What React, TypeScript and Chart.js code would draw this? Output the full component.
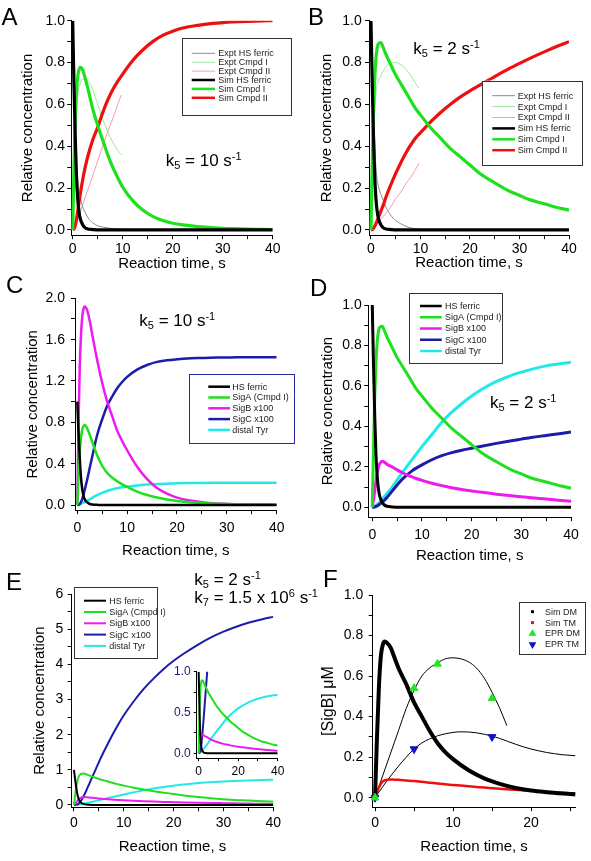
import React, { useEffect, useRef } from "react";
import { Chart, registerables } from "chart.js";
Chart.register(...registerables);

const FONT = '"Liberation Sans", Arial, Helvetica, sans-serif';

// ---------------- data ----------------
const T_SIM = [0, 0.25, 0.5, 0.75, 1, 1.25, 1.5, 2, 2.5, 3, 4, 5, 6, 7, 8, 9, 10, 12, 14, 16, 18, 20, 22, 25, 28, 30, 32, 35, 38, 40];
const T_EXPT = [0, 0.5, 1, 1.5, 2, 2.5, 3, 4, 5, 6, 7, 8, 9, 9.7];

const HS_FERRIC = [1.0, 0.7, 0.45, 0.26, 0.15, 0.09, 0.055, 0.025, 0.01, 0.005, 0.002, 0, 0, 0, 0, 0, 0, 0, 0, 0, 0, 0, 0, 0, 0, 0, 0, 0, 0, 0];
const CMPD1_K10 = [0, 0.3, 0.52, 0.65, 0.73, 0.765, 0.777, 0.765, 0.725, 0.68, 0.58, 0.5, 0.43, 0.36, 0.3, 0.25, 0.205, 0.14, 0.095, 0.065, 0.045, 0.032, 0.024, 0.016, 0.011, 0.008, 0.006, 0.004, 0.003, 0.002];
const CMPD2_K10 = [0, 0.005, 0.02, 0.05, 0.09, 0.13, 0.17, 0.24, 0.3, 0.35, 0.43, 0.49, 0.56, 0.62, 0.67, 0.71, 0.745, 0.81, 0.86, 0.9, 0.93, 0.95, 0.965, 0.978, 0.987, 0.991, 0.994, 0.997, 0.999, 1.0];
const CMPD1_K2 = [0, 0.3, 0.55, 0.72, 0.82, 0.87, 0.89, 0.895, 0.87, 0.84, 0.79, 0.74, 0.7, 0.66, 0.62, 0.58, 0.55, 0.49, 0.44, 0.39, 0.35, 0.31, 0.27, 0.225, 0.185, 0.165, 0.145, 0.125, 0.105, 0.095];
const CMPD2_K2 = [0, 0.002, 0.008, 0.018, 0.03, 0.045, 0.06, 0.09, 0.12, 0.155, 0.215, 0.27, 0.32, 0.365, 0.405, 0.44, 0.465, 0.515, 0.56, 0.6, 0.635, 0.665, 0.692, 0.733, 0.772, 0.796, 0.819, 0.851, 0.881, 0.9];

const EXPT_HS_A = [1.0, 0.45, 0.24, 0.16, 0.11, 0.085, 0.06, 0.035, 0.02, 0.014, 0.01, 0.006, 0.004, 0.003];
const EXPT_CMPD1_A = [0, 0.45, 0.65, 0.7, 0.72, 0.72, 0.715, 0.67, 0.6, 0.53, 0.47, 0.42, 0.38, 0.36];
const EXPT_CMPD2_A = [0, 0.02, 0.05, 0.085, 0.12, 0.155, 0.19, 0.26, 0.33, 0.4, 0.47, 0.53, 0.6, 0.645];
const EXPT_HS_B = [1.0, 0.6, 0.3, 0.21, 0.17, 0.14, 0.11, 0.07, 0.045, 0.03, 0.018, 0.01, 0.005, 0.003];
const EXPT_CMPD1_B = [0, 0.45, 0.65, 0.71, 0.74, 0.76, 0.78, 0.795, 0.8, 0.79, 0.77, 0.74, 0.7, 0.677];
const EXPT_CMPD2_B = [0, 0.008, 0.02, 0.035, 0.05, 0.065, 0.08, 0.11, 0.15, 0.18, 0.22, 0.25, 0.29, 0.318];

const SIGA_C = [0, 0.3, 0.52, 0.65, 0.73, 0.765, 0.777, 0.74, 0.68, 0.61, 0.48, 0.38, 0.31, 0.265, 0.23, 0.2, 0.175, 0.13, 0.097, 0.072, 0.053, 0.04, 0.03, 0.02, 0.013, 0.01, 0.008, 0.005, 0.004, 0.003];
const SIGB_K10 = [0, 0.8, 1.35, 1.65, 1.82, 1.9, 1.92, 1.88, 1.78, 1.65, 1.4, 1.18, 1.0, 0.86, 0.72, 0.62, 0.53, 0.37, 0.25, 0.165, 0.11, 0.072, 0.048, 0.027, 0.015, 0.011, 0.008, 0.005, 0.004, 0.003];
const SIGC_K10 = [0, 0.002, 0.01, 0.03, 0.06, 0.1, 0.15, 0.25, 0.36, 0.47, 0.68, 0.83, 0.96, 1.05, 1.13, 1.19, 1.24, 1.31, 1.355, 1.385, 1.4, 1.41, 1.418, 1.423, 1.427, 1.428, 1.429, 1.43, 1.43, 1.43];
const TYR_K10 = [0, 0.002, 0.006, 0.012, 0.018, 0.024, 0.03, 0.04, 0.055, 0.07, 0.095, 0.118, 0.136, 0.15, 0.162, 0.171, 0.178, 0.19, 0.198, 0.203, 0.207, 0.21, 0.212, 0.214, 0.215, 0.215, 0.215, 0.215, 0.215, 0.215];

const SIGB_K2 = [0, 0.04, 0.08, 0.13, 0.17, 0.2, 0.215, 0.228, 0.222, 0.212, 0.2, 0.185, 0.172, 0.16, 0.15, 0.141, 0.133, 0.119, 0.107, 0.097, 0.088, 0.081, 0.074, 0.065, 0.057, 0.052, 0.047, 0.041, 0.034, 0.03];
const SIGC_K2 = [0, 0, 0.002, 0.004, 0.007, 0.011, 0.016, 0.026, 0.037, 0.05, 0.08, 0.11, 0.138, 0.16, 0.18, 0.196, 0.21, 0.235, 0.255, 0.27, 0.282, 0.292, 0.302, 0.316, 0.329, 0.337, 0.345, 0.355, 0.365, 0.372];
const TYR_K2 = [0, 0.002, 0.005, 0.009, 0.014, 0.02, 0.026, 0.04, 0.055, 0.07, 0.1, 0.135, 0.17, 0.203, 0.236, 0.268, 0.3, 0.36, 0.42, 0.47, 0.512, 0.55, 0.582, 0.622, 0.652, 0.668, 0.682, 0.699, 0.711, 0.717];
const SIGC_K7 = [0, 0.003, 0.01, 0.02, 0.05, 0.09, 0.14, 0.27, 0.42, 0.58, 0.9, 1.22, 1.52, 1.8, 2.07, 2.32, 2.55, 2.95, 3.3, 3.6, 3.87, 4.1, 4.3, 4.57, 4.8, 4.93, 5.04, 5.18, 5.29, 5.35];

const T_F = [0, 0.25, 0.5, 0.75, 1, 1.25, 1.5, 2, 2.5, 3, 4, 5, 6, 7, 8, 9, 10, 12, 14, 16, 18, 20, 22, 25, 25.7];
const SIM_DM = [0, 0.3, 0.55, 0.7, 0.755, 0.77, 0.765, 0.74, 0.69, 0.64, 0.56, 0.47, 0.4, 0.33, 0.27, 0.225, 0.19, 0.135, 0.095, 0.068, 0.048, 0.035, 0.027, 0.018, 0.016];
const SIM_TM = [0, 0.025, 0.05, 0.068, 0.08, 0.086, 0.088, 0.09, 0.089, 0.088, 0.085, 0.082, 0.078, 0.074, 0.07, 0.066, 0.063, 0.056, 0.05, 0.044, 0.039, 0.034, 0.029, 0.022, 0.021];
const EPR_DM_T = [0, 5, 8, 15];
const EPR_DM = [0, 0.54, 0.66, 0.49];
const EPR_TM_T = [0, 5, 15];
const EPR_TM = [0, 0.24, 0.3];
const FIT_DM_T = [0, 1, 2, 3, 4, 5, 6, 7, 8, 9, 10, 11, 12, 13, 14, 15, 16, 16.9];
const FIT_DM = [0, 0.11, 0.22, 0.33, 0.44, 0.53, 0.6, 0.64, 0.665, 0.685, 0.69, 0.685, 0.67, 0.64, 0.59, 0.52, 0.44, 0.355];
const FIT_TM_T = [0, 1, 2, 3, 4, 5, 6, 7, 8, 9, 10, 11, 12, 13, 14, 15, 16, 17, 18, 19, 20, 21, 22, 23, 24, 25, 25.7];
const FIT_TM = [0, 0.055, 0.107, 0.155, 0.2, 0.24, 0.27, 0.29, 0.305, 0.315, 0.322, 0.325, 0.324, 0.32, 0.313, 0.304, 0.292, 0.278, 0.264, 0.251, 0.24, 0.231, 0.223, 0.217, 0.212, 0.209, 0.207];

// tick values
const X40_MAJOR = [0, 10, 20, 30, 40];
const X40_MINOR = [5, 15, 25, 35];
const Y1_MAJOR = [0, 0.2, 0.4, 0.6, 0.8, 1.0];
const Y1_MINOR = [0.1, 0.3, 0.5, 0.7, 0.9];
const Y2_MAJOR = [0, 0.4, 0.8, 1.2, 1.6, 2.0];
const Y2_MINOR = [0.2, 0.6, 1.0, 1.4, 1.8];
const Y6_MAJOR = [0, 1, 2, 3, 4, 5, 6];
const Y6_MINOR = [0.5, 1.5, 2.5, 3.5, 4.5, 5.5];
const XF_MAJOR = [0, 10, 20];
const XF_MINOR = [5, 15, 25];
const INSET_X_MAJOR = [0, 20, 40];
const INSET_X_MINOR = [10, 30];
const INSET_Y_MAJOR = [0, 0.5, 1.0];
const INSET_Y_MINOR = [0.25, 0.75];

// colours
const C_BLACK = "#000000";
const C_GREEN = "#1ee01e";
const C_RED = "#ee1010";
const C_GRAY = "#8a8a8a";
const C_LGREEN = "#9be89b";
const C_LRED = "#f0a0a8";
const C_MAGENTA = "#ee1bee";
const C_NAVY = "#1c1ca8";
const C_CYAN = "#22e8e8";
const C_BLUE = "#1010c8";

// ---------------- helpers ----------------
function line(label: string, xs: number[], ys: number[], color: string, width: number, order = 1): any {
  return {
    label,
    data: xs.map((x, i) => ({ x, y: ys[i] })),
    borderColor: color,
    backgroundColor: color,
    borderWidth: width,
    pointRadius: 0,
    fill: false,
    cubicInterpolationMode: "monotone",
    order,
  };
}

function marks(label: string, xs: number[], ys: number[], color: string, rotation: number): any {
  return {
    label,
    data: xs.map((x, i) => ({ x, y: ys[i] })),
    showLine: false,
    borderColor: color,
    backgroundColor: color,
    pointBackgroundColor: color,
    pointBorderColor: color,
    pointStyle: "triangle",
    pointRotation: rotation,
    pointRadius: 4.5,
    borderWidth: 1,
    clip: false,
    order: 0,
  };
}

type AxisCfg = {
  min: number; max: number; major: number[]; minor: number[]; digits: number;
  title?: string; titleSize?: number; labelPad: number; labelSize: number; labelColor: string; tickLen: number;
};
type LegendSpec = {
  box: [number, number, number, number]; border: string; y0: number; gap: number;
  sw0: number; sw1: number; textX: number; font: number; items: number[]; markers?: boolean;
};
type PanelCfg = {
  left: number; top: number; width: number; height: number;
  area: { l: number; r: number; t: number; b: number };
  yTitleX?: number; xTitleY?: number; yAxisW?: number; xAxisH?: number;
  x: AxisCfg; y: AxisCfg; datasets: any[]; legend?: LegendSpec;
};

function buildAxis(a: AxisCfg, horizontal: boolean, size: number): any {
  const ticks = [...a.major, ...a.minor].sort((p, q) => p - q);
  const isMajor = (v: number) => a.major.some((m) => Math.abs(m - v) < 1e-9);
  return {
    type: "linear",
    min: a.min,
    max: a.max,
    afterBuildTicks: (s: any) => { s.ticks = ticks.map((v) => ({ value: v })); },
    afterFit: (s: any) => { if (horizontal) s.height = size; else s.width = size; },
    ticks: {
      autoSkip: false, maxRotation: 0, minRotation: 0, padding: a.labelPad, color: a.labelColor,
      font: { family: FONT, size: a.labelSize },
      callback: (v: any) => (isMajor(Number(v)) ? Number(v).toFixed(a.digits) : ""),
    },
    grid: { drawOnChartArea: false, drawTicks: true, tickLength: a.tickLen, color: "#000", lineWidth: 1 },
    border: { display: true, color: "#000", width: 1 },
    title: a.title
      ? { display: true, text: a.title, color: "#000", font: { family: FONT, size: a.titleSize || 15 }, padding: 0 }
      : { display: false },
  };
}

function boxLegend(spec: LegendSpec): any {
  return {
    id: "boxLegend",
    afterDatasetsDraw(chart: any) {
      const ctx = chart.ctx as CanvasRenderingContext2D;
      const [bx, by, bw, bh] = spec.box;
      ctx.save();
      ctx.fillStyle = "#fff";
      ctx.fillRect(bx, by, bw, bh);
      ctx.strokeStyle = spec.border;
      ctx.lineWidth = 1;
      ctx.strokeRect(Math.round(bx) + 0.5, Math.round(by) + 0.5, Math.round(bw), Math.round(bh));
      ctx.font = `${spec.font}px ${FONT}`;
      ctx.textBaseline = "middle";
      ctx.textAlign = "left";
      spec.items.forEach((di, i) => {
        const ds = chart.data.datasets[di];
        const y = spec.y0 + i * spec.gap;
        const color = ds.borderColor as string;
        if (spec.markers) {
          const cx = (spec.sw0 + spec.sw1) / 2;
          ctx.fillStyle = color;
          if (ds.pointStyle === "triangle") {
            const r = 4.5;
            const dir = ds.pointRotation === 180 ? -1 : 1;
            ctx.beginPath();
            ctx.moveTo(cx, y - dir * r);
            ctx.lineTo(cx + r * 0.866, y + dir * r * 0.5);
            ctx.lineTo(cx - r * 0.866, y + dir * r * 0.5);
            ctx.closePath();
            ctx.fill();
          } else {
            ctx.fillRect(cx - 1.5, y - 1.5, 3, 3);
          }
        } else {
          ctx.strokeStyle = color;
          ctx.lineWidth = Math.min(ds.borderWidth, 2.5);
          ctx.beginPath();
          ctx.moveTo(spec.sw0, y);
          ctx.lineTo(spec.sw1, y);
          ctx.stroke();
        }
        ctx.fillStyle = "#222";
        ctx.fillText(ds.label, spec.textX, y + 0.5);
      });
      ctx.restore();
    },
  };
}

function Panel({ cfg }: { cfg: PanelCfg }) {
  const ref = useRef<HTMLCanvasElement>(null);
  useEffect(() => {
    const xLh = (cfg.x.titleSize || 15) * 1.2;
    const yLh = (cfg.y.titleSize || 15) * 1.2;
    const yLeft = cfg.yTitleX !== undefined ? cfg.yTitleX - yLh / 2 : cfg.area.l - (cfg.yAxisW || 40);
    const yW = cfg.area.l - yLeft;
    const xBottom = cfg.xTitleY !== undefined ? cfg.xTitleY + xLh / 2 : cfg.area.b + (cfg.xAxisH || 20);
    const xH = xBottom - cfg.area.b;
    const chart = new Chart(ref.current as HTMLCanvasElement, {
      type: "line",
      data: { datasets: cfg.datasets },
      options: {
        responsive: false,
        animation: false,
        events: [],
        layout: {
          padding: { left: yLeft, right: cfg.width - cfg.area.r, top: cfg.area.t, bottom: cfg.height - xBottom },
        },
        plugins: { legend: { display: false }, tooltip: { enabled: false } },
        scales: { x: buildAxis(cfg.x, true, xH), y: buildAxis(cfg.y, false, yW) },
      } as any,
      plugins: cfg.legend ? [boxLegend(cfg.legend)] : [],
    } as any);
    return () => chart.destroy();
  }, []);
  return (
    <canvas
      ref={ref}
      width={cfg.width}
      height={cfg.height}
      style={{ position: "absolute", left: cfg.left, top: cfg.top, width: cfg.width, height: cfg.height }}
    />
  );
}

const axX40 = (min: number, pad: number): AxisCfg => ({
  min, max: 40, major: X40_MAJOR, minor: X40_MINOR, digits: 0, title: "Reaction time, s", titleSize: 15,
  labelPad: pad, labelSize: 14, labelColor: "#000", tickLen: 4,
});
const axY = (min: number, max: number, major: number[], minor: number[], digits: number, pad: number, title = "Relative concentration", titleSize = 15): AxisCfg => ({
  min, max, major, minor, digits, title, titleSize, labelPad: pad, labelSize: 14, labelColor: "#000", tickLen: 4,
});

const simSetK10 = (w: number) => [
  line("HS ferric", T_SIM, HS_FERRIC, C_BLACK, w),
  line("SigA (Cmpd I)", T_SIM, SIGA_C, C_GREEN, w),
  line("SigB x100", T_SIM, SIGB_K10, C_MAGENTA, w),
  line("SigC x100", T_SIM, SIGC_K10, C_NAVY, w),
  line("distal Tyr", T_SIM, TYR_K10, C_CYAN, w),
];
const simSetK2 = (w: number, sigc: number[]) => [
  line("HS ferric", T_SIM, HS_FERRIC, C_BLACK, w),
  line("SigA (Cmpd I)", T_SIM, CMPD1_K2, C_GREEN, w),
  line("SigB x100", T_SIM, SIGB_K2, C_MAGENTA, w),
  line("SigC x100", T_SIM, sigc, C_NAVY, w),
  line("distal Tyr", T_SIM, TYR_K2, C_CYAN, w),
];

const PANELS: PanelCfg[] = [
  {
    left: 0, top: 0, width: 295, height: 280,
    area: { l: 71.2, r: 272.7, t: 20.7, b: 235.2 }, yTitleX: 28.3, xTitleY: 264,
    x: axX40(-0.3, 1.8), y: axY(-0.025, 1.0, Y1_MAJOR, Y1_MINOR, 1, 2.2),
    datasets: [
      line("Expt HS ferric", T_EXPT, EXPT_HS_A, C_GRAY, 1, 2),
      line("Expt Cmpd I", T_EXPT, EXPT_CMPD1_A, C_LGREEN, 1, 2),
      line("Expt Cmpd II", T_EXPT, EXPT_CMPD2_A, C_LRED, 1, 2),
      line("Sim HS ferric", T_SIM, HS_FERRIC, C_BLACK, 3.2),
      line("Sim Cmpd I", T_SIM, CMPD1_K10, C_GREEN, 3.2),
      line("Sim Cmpd II", T_SIM, CMPD2_K10, C_RED, 3.2),
    ],
    legend: { box: [181.7, 38.3, 109, 76.7], border: "#333", y0: 53.3, gap: 8.9, sw0: 191.7, sw1: 215, textX: 218.3, font: 9, items: [0, 1, 2, 3, 4, 5] },
  },
  {
    left: 295, top: 0, width: 296, height: 280,
    area: { l: 74, r: 274, t: 20.7, b: 235.2 }, yTitleX: 31.7, xTitleY: 263.3,
    x: axX40(-0.4, 1.5), y: axY(-0.025, 1.0, Y1_MAJOR, Y1_MINOR, 1, 3.3),
    datasets: [
      line("Expt HS ferric", T_EXPT, EXPT_HS_B, C_GRAY, 1, 2),
      line("Expt Cmpd I", T_EXPT, EXPT_CMPD1_B, C_LGREEN, 1, 2),
      line("Expt Cmpd II", T_EXPT, EXPT_CMPD2_B, C_LRED, 1, 2),
      line("Sim HS ferric", T_SIM, HS_FERRIC, C_BLACK, 3.2),
      line("Sim Cmpd I", T_SIM, CMPD1_K2, C_GREEN, 3.2),
      line("Sim Cmpd II", T_SIM, CMPD2_K2, C_RED, 3.2),
    ],
    legend: { box: [187.3, 80.7, 100, 84.3], border: "#333", y0: 95.7, gap: 10.9, sw0: 197.3, sw1: 220, textX: 222.7, font: 9, items: [0, 1, 2, 3, 4, 5] },
  },
  {
    left: 0, top: 280, width: 295, height: 290,
    area: { l: 75, r: 276.7, t: 18.3, b: 230.2 }, yTitleX: 33.3, xTitleY: 270.7,
    x: axX40(-0.46, 5.7), y: axY(-0.05, 2.0, Y2_MAJOR, Y2_MINOR, 1, 6),
    datasets: simSetK10(2.5),
    legend: { box: [189.3, 94.3, 104.7, 69], border: "#2a2aa0", y0: 106.7, gap: 10.8, sw0: 208.3, sw1: 230, textX: 232.3, font: 9, items: [0, 1, 2, 3, 4] },
  },
  {
    left: 295, top: 280, width: 296, height: 290,
    area: { l: 73.3, r: 276, t: 25, b: 237.2 }, yTitleX: 33.3, xTitleY: 276,
    x: axX40(-0.8, 5.4), y: axY(-0.049, 1.0, Y1_MAJOR, Y1_MINOR, 1, 2.6),
    datasets: simSetK2(3, SIGC_K2),
    legend: { box: [114.3, 13.3, 93, 70], border: "#333", y0: 26, gap: 11.25, sw0: 125, sw1: 146.7, textX: 150, font: 9, items: [0, 1, 2, 3, 4] },
  },
  {
    left: 0, top: 570, width: 295, height: 291,
    area: { l: 71.7, r: 273.3, t: 24, b: 237.3 }, yTitleX: 40, xTitleY: 276.7,
    x: axX40(-0.46, 3.6), y: axY(-0.066, 6, Y6_MAJOR, Y6_MINOR, 0, 4.4),
    datasets: simSetK2(2, SIGC_K7),
    legend: { box: [74, 16.7, 82.7, 70.6], border: "#333", y0: 30.7, gap: 11.3, sw0: 84, sw1: 106, textX: 109.3, font: 9, items: [0, 1, 2, 3, 4] },
  },
  {
    left: 295, top: 570, width: 296, height: 291,
    area: { l: 77.7, r: 280.5, t: 25, b: 237.2 }, yTitleX: 33.3, xTitleY: 277.3,
    x: { min: -0.3, max: 25.7, major: XF_MAJOR, minor: XF_MINOR, digits: 0, title: "Reaction time, s", titleSize: 15, labelPad: 3.7, labelSize: 14, labelColor: "#000", tickLen: 4 },
    y: axY(-0.047, 1.0, Y1_MAJOR, Y1_MINOR, 1, 5.4, "[SigB] \u03bcM", 16),
    datasets: [
      line("Sim DM", T_F, SIM_DM, C_BLACK, 4),
      line("Sim TM", T_F, SIM_TM, C_RED, 2.5),
      marks("EPR DM", EPR_DM_T, EPR_DM, "#22e622", 0),
      marks("EPR TM", EPR_TM_T, EPR_TM, C_BLUE, 180),
      line("DM fit", FIT_DM_T, FIT_DM, C_BLACK, 1, 2),
      line("TM fit", FIT_TM_T, FIT_TM, C_BLACK, 1, 2),
    ],
    legend: { box: [224, 31.7, 66, 51.6], border: "#333", y0: 41.7, gap: 10.9, sw0: 232, sw1: 243, textX: 250, font: 9, items: [0, 1, 2, 3], markers: true },
  },
  // inset of panel E
  {
    left: 140, top: 655, width: 155, height: 130,
    area: { l: 56.7, r: 137.7, t: 16.7, b: 103.2 }, yAxisW: 40, xAxisH: 20,
    x: { min: -1, max: 40, major: INSET_X_MAJOR, minor: INSET_X_MINOR, digits: 0, labelPad: 3, labelSize: 12, labelColor: "#000", tickLen: 3 },
    y: { min: -0.06, max: 1.0, major: INSET_Y_MAJOR, minor: INSET_Y_MINOR, digits: 1, labelPad: 3, labelSize: 12, labelColor: "#1c1c6c", tickLen: 3 },
    datasets: simSetK2(2, SIGC_K7),
  },
];

const txt: React.CSSProperties = {
  position: "absolute", fontFamily: FONT, fontSize: 17, lineHeight: "17px", color: "#000", whiteSpace: "nowrap",
};
const sub: React.CSSProperties = { fontSize: 11, verticalAlign: "baseline", position: "relative", top: 3, lineHeight: 0 };
const sup: React.CSSProperties = { fontSize: 11, verticalAlign: "baseline", position: "relative", top: -6, lineHeight: 0 };
const letter: React.CSSProperties = {
  position: "absolute", fontFamily: FONT, fontSize: 24, lineHeight: "24px", color: "#000",
};

export default function App() {
  return (
    <div style={{ position: "absolute", left: 0, top: 0, width: 591, height: 861, background: "#fff", overflow: "hidden" }}>
      {PANELS.map((p, i) => (
        <Panel key={i} cfg={p} />
      ))}
      <div style={{ ...letter, left: 1.5, top: 4.7 }}>A</div>
      <div style={{ ...letter, left: 308, top: 4.7 }}>B</div>
      <div style={{ ...letter, left: 6, top: 273 }}>C</div>
      <div style={{ ...letter, left: 310, top: 276.4 }}>D</div>
      <div style={{ ...letter, left: 6, top: 569.7 }}>E</div>
      <div style={{ ...letter, left: 323, top: 566.7 }}>F</div>

      <div style={{ ...txt, left: 165.7, top: 152.3 }}>
        k<span style={sub}>5</span> = 10 s<span style={sup}>-1</span>
      </div>
      <div style={{ ...txt, left: 413.3, top: 39.6 }}>
        k<span style={sub}>5</span> = 2 s<span style={sup}>-1</span>
      </div>
      <div style={{ ...txt, left: 139.3, top: 312.3 }}>
        k<span style={sub}>5</span> = 10 s<span style={sup}>-1</span>
      </div>
      <div style={{ ...txt, left: 490, top: 393.6 }}>
        k<span style={sub}>5</span> = 2 s<span style={sup}>-1</span>
      </div>
      <div style={{ ...txt, left: 194.3, top: 571 }}>
        k<span style={sub}>5</span> = 2 s<span style={sup}>-1</span>
      </div>
      <div style={{ ...txt, left: 194.3, top: 589 }}>
        k<span style={sub}>7</span> = 1.5 x 10<span style={sup}>6</span> s<span style={sup}>-1</span>
      </div>
    </div>
  );
}
